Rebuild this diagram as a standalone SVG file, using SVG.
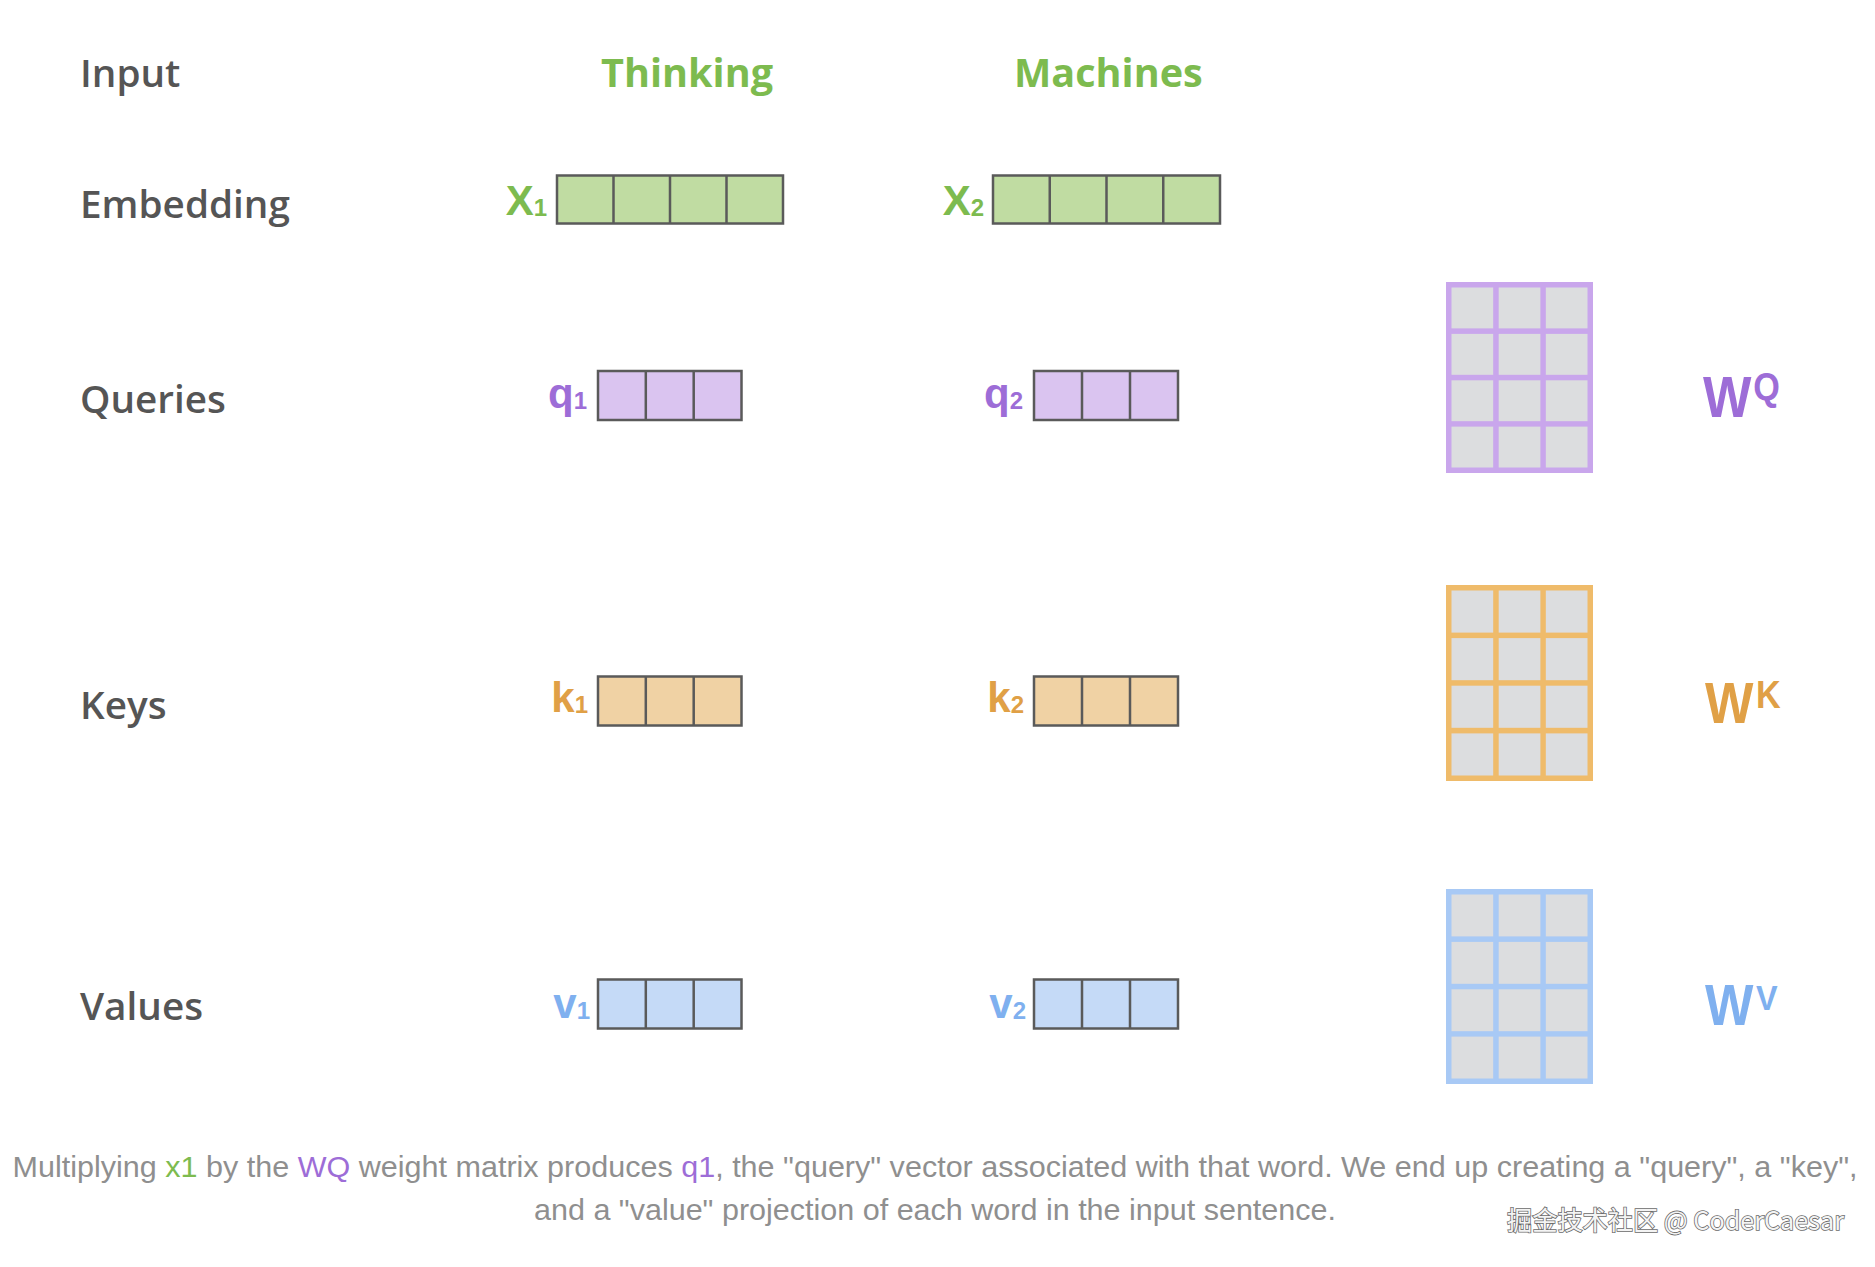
<svg xmlns="http://www.w3.org/2000/svg" width="1875" height="1267" viewBox="0 0 1875 1267">
<style>
.lbl{font-family:"Open Sans","Liberation Sans",sans-serif;font-weight:600;font-size:38.7px;fill:#555}
.word{font-family:"Open Sans","Liberation Sans",sans-serif;font-weight:700;font-size:39.6px;fill:#7dbb4f}
.vl{font-family:"Liberation Sans",Arial,sans-serif;font-weight:700;font-size:42px}
.sub{font-size:24px}
.vec{stroke:#5a5a5a;stroke-width:2.5}
.div{stroke:#5a5a5a;stroke-width:2.5}
.g{fill:#c0dca2}.gt{fill:#7dbb4f}
.p{fill:#dac4f0}.pt{fill:#9d6dd7}
.o{fill:#f0d2a4}.ot{fill:#e0a046}
.b{fill:#c5daf7}.bt{fill:#7fb0ef}
.cell{fill:#dcdddf}
.wl{font-family:"Liberation Sans",Arial,sans-serif;font-weight:700;font-size:57px}
.cap{font-family:"Liberation Sans",Arial,sans-serif;font-size:30px;fill:#8f8f8f}
.wm{font-family:"Noto Sans CJK SC","Liberation Sans",sans-serif;font-size:26px;fill:#f4f4f4;stroke:#6a6a6a;stroke-width:1.6px;paint-order:stroke}
</style>
<rect width="1875" height="1267" fill="#ffffff"/>

<g id="row-labels">
<text class="lbl" x="80" y="87">Input</text>
<text class="lbl" x="80" y="218">Embedding</text>
<text class="lbl" x="80" y="413">Queries</text>
<text class="lbl" x="80" y="719">Keys</text>
<text class="lbl" x="80" y="1020">Values</text>
</g>

<g id="word-thinking"><text class="word" x="601" y="87">Thinking</text></g>
<g id="word-machines"><text class="word" x="1014" y="87">Machines</text></g>

<g id="x1">
<text class="vl gt" x="547" y="215" text-anchor="end">X<tspan class="sub" dy="1">1</tspan></text>
<rect class="vec g" x="557" y="175.5" width="226" height="48"/>
<path class="div" d="M613.5 175.5V223.5M670 175.5V223.5M726.5 175.5V223.5"/>
</g>
<g id="x2">
<text class="vl gt" x="984" y="215" text-anchor="end">X<tspan class="sub" dy="1">2</tspan></text>
<rect class="vec g" x="993" y="175.5" width="227" height="48"/>
<path class="div" d="M1049.75 175.5V223.5M1106.5 175.5V223.5M1163.25 175.5V223.5"/>
</g>

<g id="q1">
<text class="vl pt" x="587" y="408" text-anchor="end">q<tspan class="sub" dy="1">1</tspan></text>
<rect class="vec p" x="598" y="371" width="143.5" height="49"/>
<path class="div" d="M645.8 371V420M693.7 371V420"/>
</g>
<g id="q2">
<text class="vl pt" x="1023" y="408" text-anchor="end">q<tspan class="sub" dy="1">2</tspan></text>
<rect class="vec p" x="1034" y="371" width="144" height="49"/>
<path class="div" d="M1082 371V420M1130 371V420"/>
</g>

<g id="k1">
<text class="vl ot" x="588" y="712" text-anchor="end">k<tspan class="sub" dy="1">1</tspan></text>
<rect class="vec o" x="598" y="676.5" width="143.5" height="49"/>
<path class="div" d="M645.8 676.5V725.5M693.7 676.5V725.5"/>
</g>
<g id="k2">
<text class="vl ot" x="1024" y="712" text-anchor="end">k<tspan class="sub" dy="1">2</tspan></text>
<rect class="vec o" x="1034" y="676.5" width="144" height="49"/>
<path class="div" d="M1082 676.5V725.5M1130 676.5V725.5"/>
</g>

<g id="v1">
<text class="vl bt" x="590" y="1018" text-anchor="end">v<tspan class="sub" dy="1">1</tspan></text>
<rect class="vec b" x="598" y="979.5" width="143.5" height="49"/>
<path class="div" d="M645.8 979.5V1028.5M693.7 979.5V1028.5"/>
</g>
<g id="v2">
<text class="vl bt" x="1026" y="1018" text-anchor="end">v<tspan class="sub" dy="1">2</tspan></text>
<rect class="vec b" x="1034" y="979.5" width="144" height="49"/>
<path class="div" d="M1082 979.5V1028.5M1130 979.5V1028.5"/>
</g>

<g id="matrix-wq">
<rect x="1446" y="282" width="147" height="191" fill="#c9a6ec"/>
<g class="cell">
<rect x="1451.5" y="287.5" width="41.7" height="40.9"/><rect x="1498.7" y="287.5" width="41.7" height="40.9"/><rect x="1545.8" y="287.5" width="41.7" height="40.9"/>
<rect x="1451.5" y="333.9" width="41.7" height="40.9"/><rect x="1498.7" y="333.9" width="41.7" height="40.9"/><rect x="1545.8" y="333.9" width="41.7" height="40.9"/>
<rect x="1451.5" y="380.3" width="41.7" height="40.9"/><rect x="1498.7" y="380.3" width="41.7" height="40.9"/><rect x="1545.8" y="380.3" width="41.7" height="40.9"/>
<rect x="1451.5" y="426.6" width="41.7" height="40.9"/><rect x="1498.7" y="426.6" width="41.7" height="40.9"/><rect x="1545.8" y="426.6" width="41.7" height="40.9"/>
</g>
</g>
<g id="label-wq">
<text class="wl pt" transform="translate(1703 417) scale(0.9 1)">W<tspan font-size="38" dx="2" dy="-17">Q</tspan></text>
</g>

<g id="matrix-wk">
<rect x="1446" y="585" width="147" height="196" fill="#efbb6a"/>
<g class="cell">
<rect x="1451.5" y="590.5" width="41.7" height="42.1"/><rect x="1498.7" y="590.5" width="41.7" height="42.1"/><rect x="1545.8" y="590.5" width="41.7" height="42.1"/>
<rect x="1451.5" y="638.1" width="41.7" height="42.1"/><rect x="1498.7" y="638.1" width="41.7" height="42.1"/><rect x="1545.8" y="638.1" width="41.7" height="42.1"/>
<rect x="1451.5" y="685.7" width="41.7" height="42.1"/><rect x="1498.7" y="685.7" width="41.7" height="42.1"/><rect x="1545.8" y="685.7" width="41.7" height="42.1"/>
<rect x="1451.5" y="733.4" width="41.7" height="42.1"/><rect x="1498.7" y="733.4" width="41.7" height="42.1"/><rect x="1545.8" y="733.4" width="41.7" height="42.1"/>
</g>
</g>
<g id="label-wk">
<text class="wl ot" transform="translate(1705 723) scale(0.9 1)">W<tspan font-size="38" dx="3" dy="-15">K</tspan></text>
</g>

<g id="matrix-wv">
<rect x="1446" y="889" width="147" height="195" fill="#a8c9f5"/>
<g class="cell">
<rect x="1451.5" y="894.5" width="41.7" height="41.9"/><rect x="1498.7" y="894.5" width="41.7" height="41.9"/><rect x="1545.8" y="894.5" width="41.7" height="41.9"/>
<rect x="1451.5" y="941.9" width="41.7" height="41.9"/><rect x="1498.7" y="941.9" width="41.7" height="41.9"/><rect x="1545.8" y="941.9" width="41.7" height="41.9"/>
<rect x="1451.5" y="989.3" width="41.7" height="41.9"/><rect x="1498.7" y="989.3" width="41.7" height="41.9"/><rect x="1545.8" y="989.3" width="41.7" height="41.9"/>
<rect x="1451.5" y="1036.6" width="41.7" height="41.9"/><rect x="1498.7" y="1036.6" width="41.7" height="41.9"/><rect x="1545.8" y="1036.6" width="41.7" height="41.9"/>
</g>
</g>
<g id="label-wv">
<text class="wl bt" transform="translate(1705 1025) scale(0.9 1)">W<tspan font-size="36" dx="3" dy="-15">V</tspan></text>
</g>

<g id="connectors"></g>

<g id="caption">
<text class="cap" x="935" y="1177" text-anchor="middle" textLength="1845" lengthAdjust="spacingAndGlyphs">Multiplying <tspan class="gt">x1</tspan> by the <tspan class="pt">WQ</tspan> weight matrix produces <tspan class="pt">q1</tspan>, the "query" vector associated with that word. We end up creating a "query", a "key",</text>
<text class="cap" x="935" y="1220" text-anchor="middle" textLength="802" lengthAdjust="spacingAndGlyphs">and a "value" projection of each word in the input sentence.</text>
</g>

<g id="watermark">
<text class="wm" x="1507" y="1230" textLength="337" lengthAdjust="spacingAndGlyphs">掘金技术社区 @ CoderCaesar</text>
</g>
</svg>
